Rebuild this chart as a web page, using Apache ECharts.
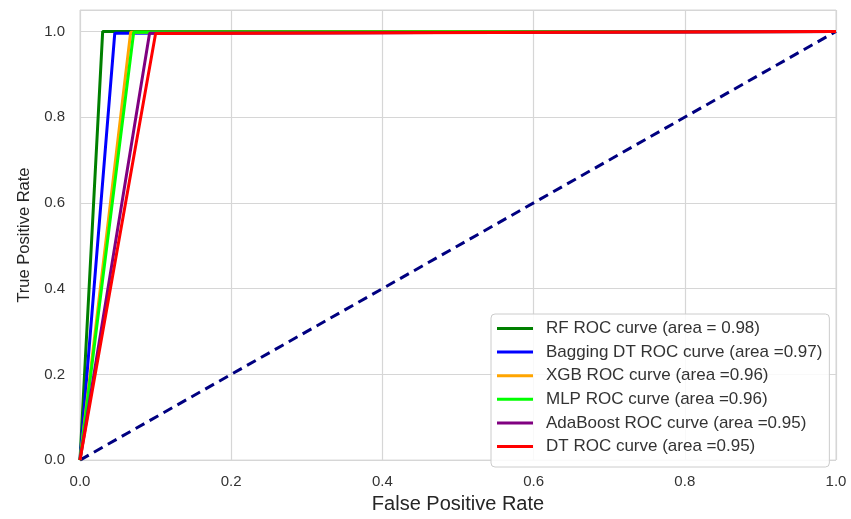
<!DOCTYPE html>
<html>
<head>
<meta charset="utf-8">
<script src="https://cdn.jsdelivr.net/npm/echarts@6/dist/echarts.min.js"></script>
<style>html,body{margin:0;padding:0;background:#fff}#c{width:851px;height:519px}</style>
</head>
<body>
<div id="c"></div>
<script>
const xTicks = [0, 0.2, 0.4, 0.6, 0.8, 1.0];
const yTicks = [0, 0.2, 0.4, 0.6, 0.8, 1.0];
const modelNames = [
  'RF ROC curve (area = 0.98)',
  'Bagging DT ROC curve (area =0.97)',
  'XGB ROC curve (area =0.96)',
  'MLP ROC curve (area =0.96)',
  'AdaBoost ROC curve (area =0.95)',
  'DT ROC curve (area =0.95)'
];
const fprRF = [0, 0.030, 1];
const tprRF = [0, 1.000, 1];
const fprBag = [0, 0.046, 1];
const tprBag = [0, 0.996, 1];
const fprXGB = [0, 0.067, 1];
const tprXGB = [0, 0.998, 1];
const fprMLP = [0, 0.071, 1];
const tprMLP = [0, 0.998, 1];
const fprAda = [0, 0.092, 1];
const tprAda = [0, 0.996, 1];
const fprDT = [0, 0.100, 1];
const tprDT = [0, 0.995, 1];
const fprDiag = [0, 1];
const tprDiag = [0, 1];

const colors = ['#008000', '#0000ff', '#ffa500', '#00ff00', '#800080', '#ff0000'];
const curves = [[fprRF, tprRF], [fprBag, tprBag], [fprXGB, tprXGB], [fprMLP, tprMLP], [fprAda, tprAda], [fprDT, tprDT]];
const zip = (a, b) => a.map((v, i) => [v, b[i]]);
const FONT = '"Liberation Sans", Arial, sans-serif';

const series = [{
  name: 'diag', type: 'line', data: zip(fprDiag, tprDiag), symbol: 'none', silent: true,
  lineStyle: { color: '#000080', width: 3, type: [10, 6] }, z: 1
}];
curves.forEach((c, i) => series.push({
  name: modelNames[i], type: 'line', data: zip(c[0], c[1]), symbol: 'none',
  lineStyle: { color: colors[i], width: 3 }, itemStyle: { color: colors[i] }, z: 2 + i
}));

const chart = echarts.init(document.getElementById('c'), null, { renderer: 'canvas' });
chart.setOption({
  animation: false,
  backgroundColor: '#fff',
  textStyle: { fontFamily: FONT },
  grid: { left: 80, right: 15, top: 10, bottom: 52, show: true, borderColor: '#d6d6d6', borderWidth: 1 },
  xAxis: {
    type: 'value', min: 0, max: 1, interval: 0.2,
    name: 'False Positive Rate', nameLocation: 'middle', nameGap: 33,
    nameTextStyle: { fontSize: 20, color: '#262626', fontFamily: FONT },
    axisLine: { show: false }, axisTick: { show: false },
    axisLabel: { fontSize: 15, color: '#333', margin: 14, fontFamily: FONT,
      formatter: v => xTicks.some(t => Math.abs(t - v) < 1e-9) ? v.toFixed(1) : '' },
    splitLine: { lineStyle: { color: '#d6d6d6', width: 1.2 } }
  },
  yAxis: {
    type: 'value', min: 0, max: 1.05, interval: 0.2,
    name: 'True Positive Rate', nameLocation: 'middle', nameGap: 47,
    nameTextStyle: { fontSize: 16.5, color: '#262626', fontFamily: FONT },
    axisLine: { show: false }, axisTick: { show: false },
    axisLabel: { fontSize: 15, color: '#333', margin: 15, fontFamily: FONT,
      formatter: v => yTicks.some(t => Math.abs(t - v) < 1e-9) ? v.toFixed(1) : '' },
    splitLine: { lineStyle: { color: '#d6d6d6', width: 1.2 } }
  },
  legend: {
    data: modelNames, orient: 'vertical', left: 491, top: 314,
    icon: 'rect', itemWidth: 36, itemHeight: 3, itemGap: 6.6,
    padding: [6, 7, 12, 6],
    backgroundColor: 'rgba(255,255,255,0.85)', borderColor: '#cccccc', borderWidth: 1, borderRadius: 4,
    textStyle: { fontSize: 17, color: '#333', lineHeight: 17, fontFamily: FONT, padding: [0, 0, 0, 8] }
  },
  series: series
});
</script>
</body>
</html>
